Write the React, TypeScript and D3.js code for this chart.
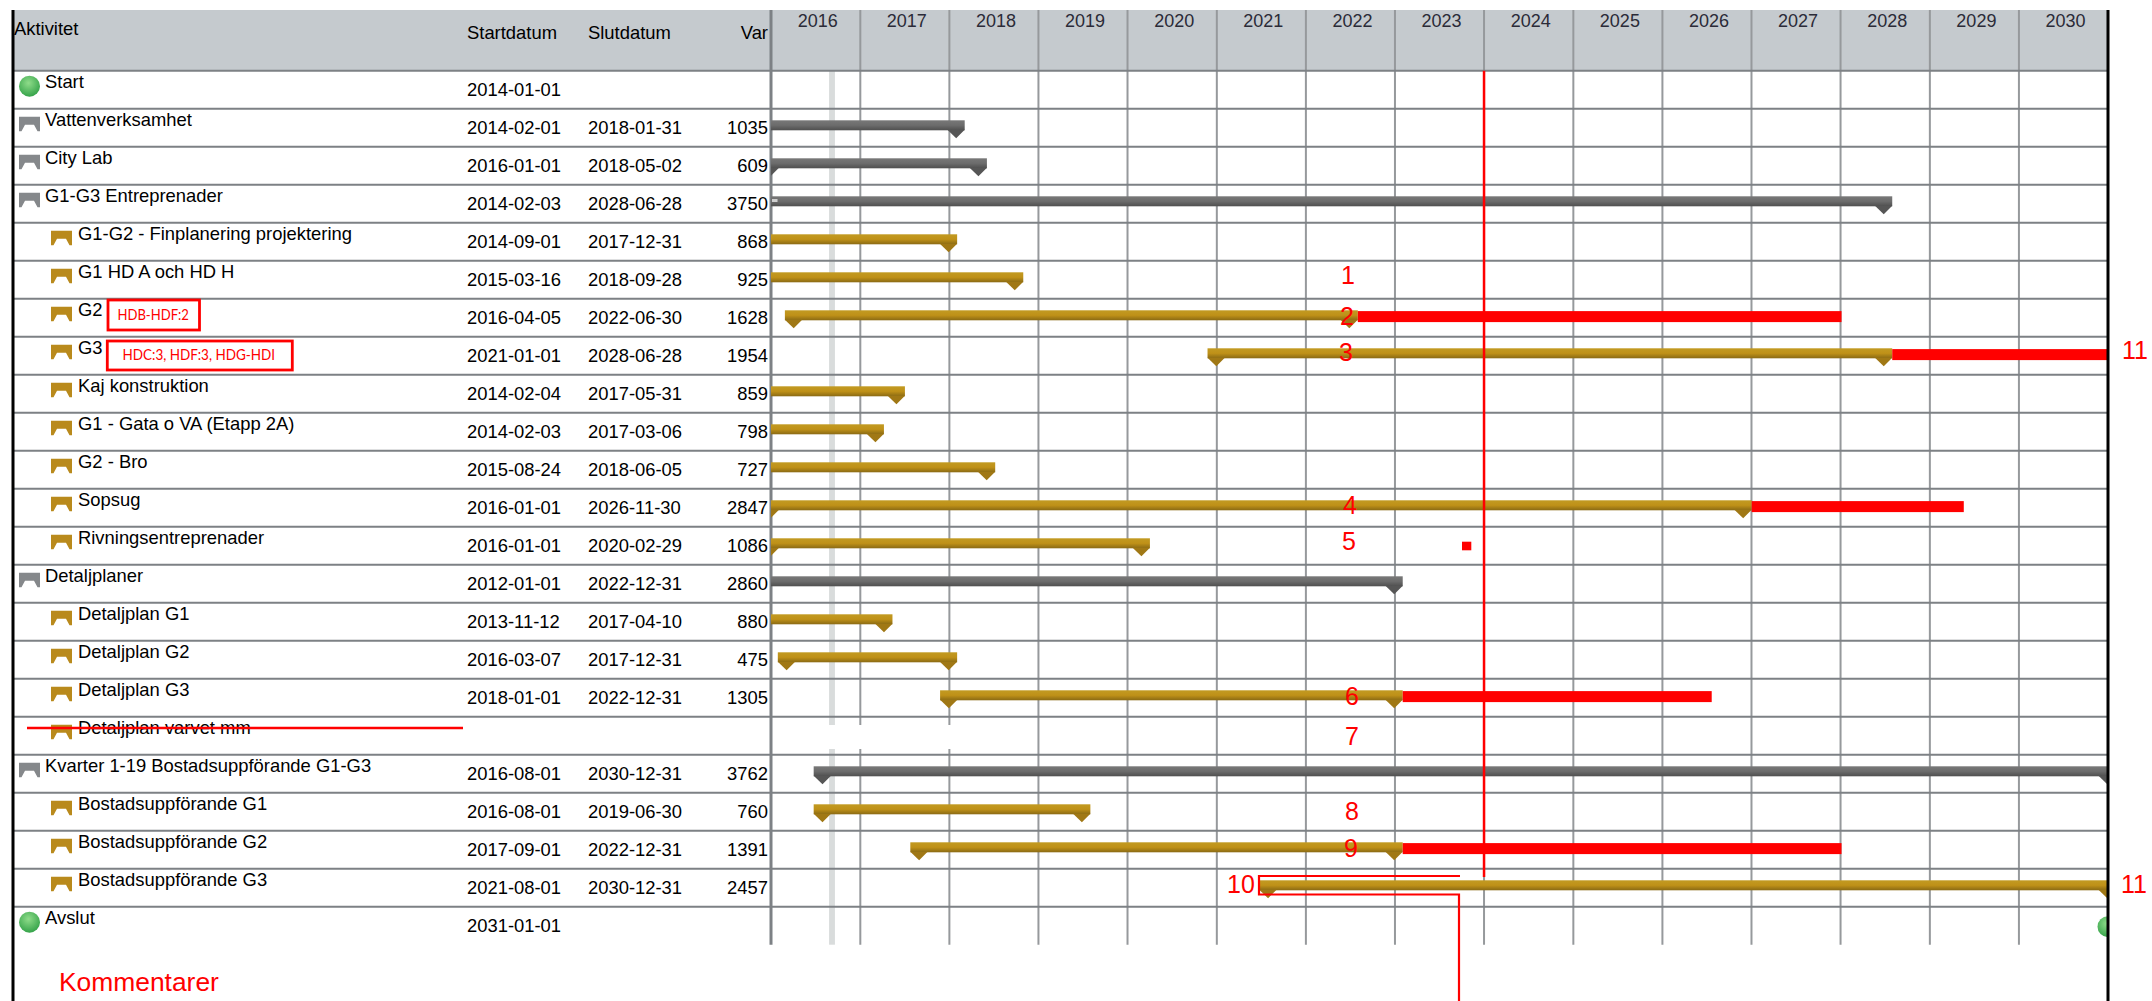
import React from 'react';
import * as d3 from 'd3';

const W = 2152;
const H = 1001;

const activities = ['Start', 'Vattenverksamhet', 'City Lab', 'G1-G3 Entreprenader', 'G1-G2 - Finplanering projektering', 'G1 HD A och HD H', 'G2', 'G3', 'Kaj konstruktion', 'G1 - Gata o VA (Etapp 2A)', 'G2 - Bro', 'Sopsug', 'Rivningsentreprenader', 'Detaljplaner', 'Detaljplan G1', 'Detaljplan G2', 'Detaljplan G3', 'Detaljplan varvet mm', 'Kvarter 1-19 Bostadsuppförande G1-G3', 'Bostadsuppförande G1', 'Bostadsuppförande G2', 'Bostadsuppförande G3', 'Avslut'];
const kinds = ['m', 's', 's', 's', 't', 't', 't', 't', 't', 't', 't', 't', 't', 's', 't', 't', 't', 't', 's', 't', 't', 't', 'm'];
const startDates = ['2014-01-01', '2014-02-01', '2016-01-01', '2014-02-03', '2014-09-01', '2015-03-16', '2016-04-05', '2021-01-01', '2014-02-04', '2014-02-03', '2015-08-24', '2016-01-01', '2016-01-01', '2012-01-01', '2013-11-12', '2016-03-07', '2018-01-01', '', '2016-08-01', '2016-08-01', '2017-09-01', '2021-08-01', '2031-01-01'];
const endDates = ['', '2018-01-31', '2018-05-02', '2028-06-28', '2017-12-31', '2018-09-28', '2022-06-30', '2028-06-28', '2017-05-31', '2017-03-06', '2018-06-05', '2026-11-30', '2020-02-29', '2022-12-31', '2017-04-10', '2017-12-31', '2022-12-31', '', '2030-12-31', '2019-06-30', '2022-12-31', '2030-12-31', ''];
const varValues = ['', '1035', '609', '3750', '868', '925', '1628', '1954', '859', '798', '727', '2847', '1086', '2860', '880', '475', '1305', '', '3762', '760', '1391', '2457', ''];
const years = d3.range(2016, 2031);

// forecast overruns, row index and end date
const overrunRows = [6, 7, 11, 16, 20];
const overrunEnds = ['2028-01-05', '2031-01-01', '2029-05-20', '2026-07-22', '2028-01-05'];

const noteLabels = ['1', '2', '3', '4', '5', '6', '7', '8', '9', '10', '11', '11'];
const todayDate = '2024-01-01';
const statusBand = ['2016-08-26', '2016-09-19'];

const parse = d3.utcParse('%Y-%m-%d');
const d = (s: string) => parse(s) as Date;

const left = 13;
const gridLeft = 771;
const right = 2108;
const headTop = 10;
const rowTop = 70.7;
const rowH = 38;

const x = d3.scaleUtc().domain([d('2016-01-01'), d('2031-01-01')]).range([gridLeft, right]);
const y = d3.scaleLinear().domain([0, activities.length]).range([rowTop, rowTop + rowH * activities.length]);
const gridBottom = y(activities.length);

const poly = d3.line();

// small bracket icon in the activity column
function bracket(x0: number, y0: number) {
  return poly([[x0, y0], [x0 + 21, y0], [x0 + 21, y0 + 14.5], [x0 + 18.5, y0 + 14.5], [x0 + 15, y0 + 8], [x0 + 6, y0 + 8], [x0 + 2.5, y0 + 14.5], [x0, y0 + 14.5]]) + 'Z';
}

// the point under a bar end, cx is the date
function caret(cx: number, top: number) {
  return poly([[cx - 9.3, top + 9.5], [cx + 8, top + 9.5], [cx - 0.5, top + 18]]) + 'Z';
}

const noteX = [1348, 1347, 1346, 1350, 1349, 1352, 1352, 1352, 1351, 1241, 2135, 2134];
const noteY = [284, 325, 361, 514, 550, 705, 745, 820, 857, 893, 359, 893];

export default function App() {
  const font = '"Liberation Sans", Arial, sans-serif';
  const txt = 18.4;
  return (
    <svg width={W} height={H} style={{ position: 'absolute', left: 0, top: 0, background: '#fff' }} fontFamily={font}>
      <defs>
        <linearGradient id="gold" x1="0" y1="0" x2="0" y2="1">
          <stop offset="0" stopColor="#c29a22" />
          <stop offset="0.5" stopColor="#bf9118" />
          <stop offset="1" stopColor="#8a6a14" />
        </linearGradient>
        <linearGradient id="grey" x1="0" y1="0" x2="0" y2="1">
          <stop offset="0" stopColor="#787878" />
          <stop offset="0.5" stopColor="#6c6c6c" />
          <stop offset="1" stopColor="#4f4f4f" />
        </linearGradient>
        <radialGradient id="ball" cx="0.45" cy="0.35" r="0.7">
          <stop offset="0" stopColor="#8fdc8a" />
          <stop offset="1" stopColor="#2f9f45" />
        </radialGradient>
        <clipPath id="plot">
          <rect x={gridLeft} y={rowTop} width={right - gridLeft} height={gridBottom - rowTop} />
        </clipPath>
      </defs>

      <rect x={left} y={headTop} width={right - left} height={rowTop - headTop} fill="#c5cace" />

      {/* status band */}
      <rect x={x(d(statusBand[0]))} y={rowTop} width={x(d(statusBand[1])) - x(d(statusBand[0]))} height={gridBottom - rowTop} fill="#d9dcdc" />

      {/* year grid */}
      {years.slice(1).map(yr => {
        const px = x(new Date(Date.UTC(yr, 0, 1)));
        return <line key={yr} x1={px} x2={px} y1={headTop} y2={gridBottom} stroke="#96999c" strokeWidth={2} />;
      })}

      {d3.range(activities.length).map(i => (
        <line key={i} x1={left} x2={right} y1={y(i)} y2={y(i)} stroke="#7d8185" strokeWidth={2} />
      ))}

      {/* blanked-out part of the Detaljplan varvet row */}
      <rect x={gridLeft + 1} y={725} width={200} height={24} fill="#fff" />

      <line x1={771} x2={771} y1={headTop} y2={gridBottom} stroke="#7d8185" strokeWidth={3} />

      {/* header */}
      <g fontSize={txt} fill="#000">
        <text x={14} y={35}>Aktivitet</text>
        <text x={467} y={39}>Startdatum</text>
        <text x={588} y={39}>Slutdatum</text>
        <text x={768} y={39} textAnchor="end">Var</text>
      </g>
      {years.map(yr => {
        const a = x(new Date(Date.UTC(yr, 0, 1)));
        const b = x(new Date(Date.UTC(yr + 1, 0, 1)));
        return <text key={yr} x={(a + b) / 2 + 2} y={27} fontSize={18} fill="#2b2b38" textAnchor="middle">{yr}</text>;
      })}

      {/* table rows */}
      {activities.map((name, i) => {
        const top = y(i);
        const kind = kinds[i];
        const tx = kind === 't' ? 78 : 45;
        return (
          <g key={name} fontSize={txt} fill="#000">
            {kind === 'm' && <ellipse cx={29.5} cy={top + 15.5} rx={10.5} ry={10.5} fill="url(#ball)" />}
            {kind === 's' && <path d={bracket(19, top + 8)} fill="#85888b" />}
            {kind === 't' && <path d={bracket(51, top + 8)} fill="#b98a1c" />}
            <text x={tx} y={top + 17}>{name}</text>
            <text x={467} y={top + 25.7}>{startDates[i]}</text>
            <text x={588} y={top + 25.7}>{endDates[i]}</text>
            <text x={768} y={top + 25.7} textAnchor="end">{varValues[i]}</text>
          </g>
        );
      })}

      {/* gantt bars */}
      <g clipPath="url(#plot)">
        {activities.map((name, i) => {
          const top = y(i) + 11.6;
          if (kinds[i] === 'm') {
            return <ellipse key={name} cx={x(d(startDates[i]))} cy={y(i) + 20} rx={10.5} ry={10.5} fill="url(#ball)" />;
          }
          if (!startDates[i]) return null;
          const x0 = x(d(startDates[i]));
          const x1 = x(d(endDates[i]));
          const summary = kinds[i] === 's';
          return (
            <g key={name}>
              <rect x={x0 - 9.3} y={top} width={x1 - x0 + 17.3} height={10} fill={summary ? 'url(#grey)' : 'url(#gold)'} />
              <path d={caret(x0, top)} fill={summary ? '#565656' : '#a07815'} />
              <path d={caret(x1, top)} fill={summary ? '#565656' : '#a07815'} />
            </g>
          );
        })}
        <rect x={772} y={199} width={5.5} height={3} fill="#cfcfcf" />
        {overrunRows.map((row, i) => {
          const from = x(d(endDates[row])) + 8;
          return <rect key={row} x={from} y={y(row) + 12.4} width={x(d(overrunEnds[i])) - from} height={11} fill="#ff0000" />;
        })}
      </g>

      {/* frame */}
      <line x1={left} x2={left} y1={headTop} y2={H} stroke="#000" strokeWidth={3} />
      <line x1={right} x2={right} y1={headTop} y2={H} stroke="#000" strokeWidth={3} />

      {/* red markup */}
      <line x1={x(d(todayDate))} x2={x(d(todayDate))} y1={rowTop} y2={877} stroke="#ff0000" strokeWidth={2.5} />
      <rect x={1462} y={541.7} width={9.3} height={8.6} fill="#ff0000" />
      <path d="M1460,876 H1259 V894.5 H1459 V1001" fill="none" stroke="#ff0000" strokeWidth={2.2} />
      <line x1={27} x2={463} y1={728} y2={728} stroke="#ff0000" strokeWidth={2.5} />

      <rect x={108} y={300} width={91.5} height={30} fill="#fff" stroke="#ff0000" strokeWidth={2.8} />
      <text x={117.5} y={319.5} fontFamily="Lato" fontSize={16} fill="#ff0000" textLength={71.3} lengthAdjust="spacingAndGlyphs">HDB-HDF:2</text>
      <rect x={107.3} y={341} width={185} height={29} fill="#fff" stroke="#ff0000" strokeWidth={2.8} />
      <text x={122.5} y={359.5} fontFamily="Lato" fontSize={16} fill="#ff0000" textLength={152.6} lengthAdjust="spacingAndGlyphs">HDC:3, HDF:3, HDG-HDI</text>

      {noteLabels.map((t, i) => (
        <text key={i} x={noteX[i]} y={noteY[i]} fontSize={25} fill="#ff0000" textAnchor="middle">{t}</text>
      ))}
      <text x={59} y={991} fontSize={26.4} fill="#ff0000">Kommentarer</text>
    </svg>
  );
}
